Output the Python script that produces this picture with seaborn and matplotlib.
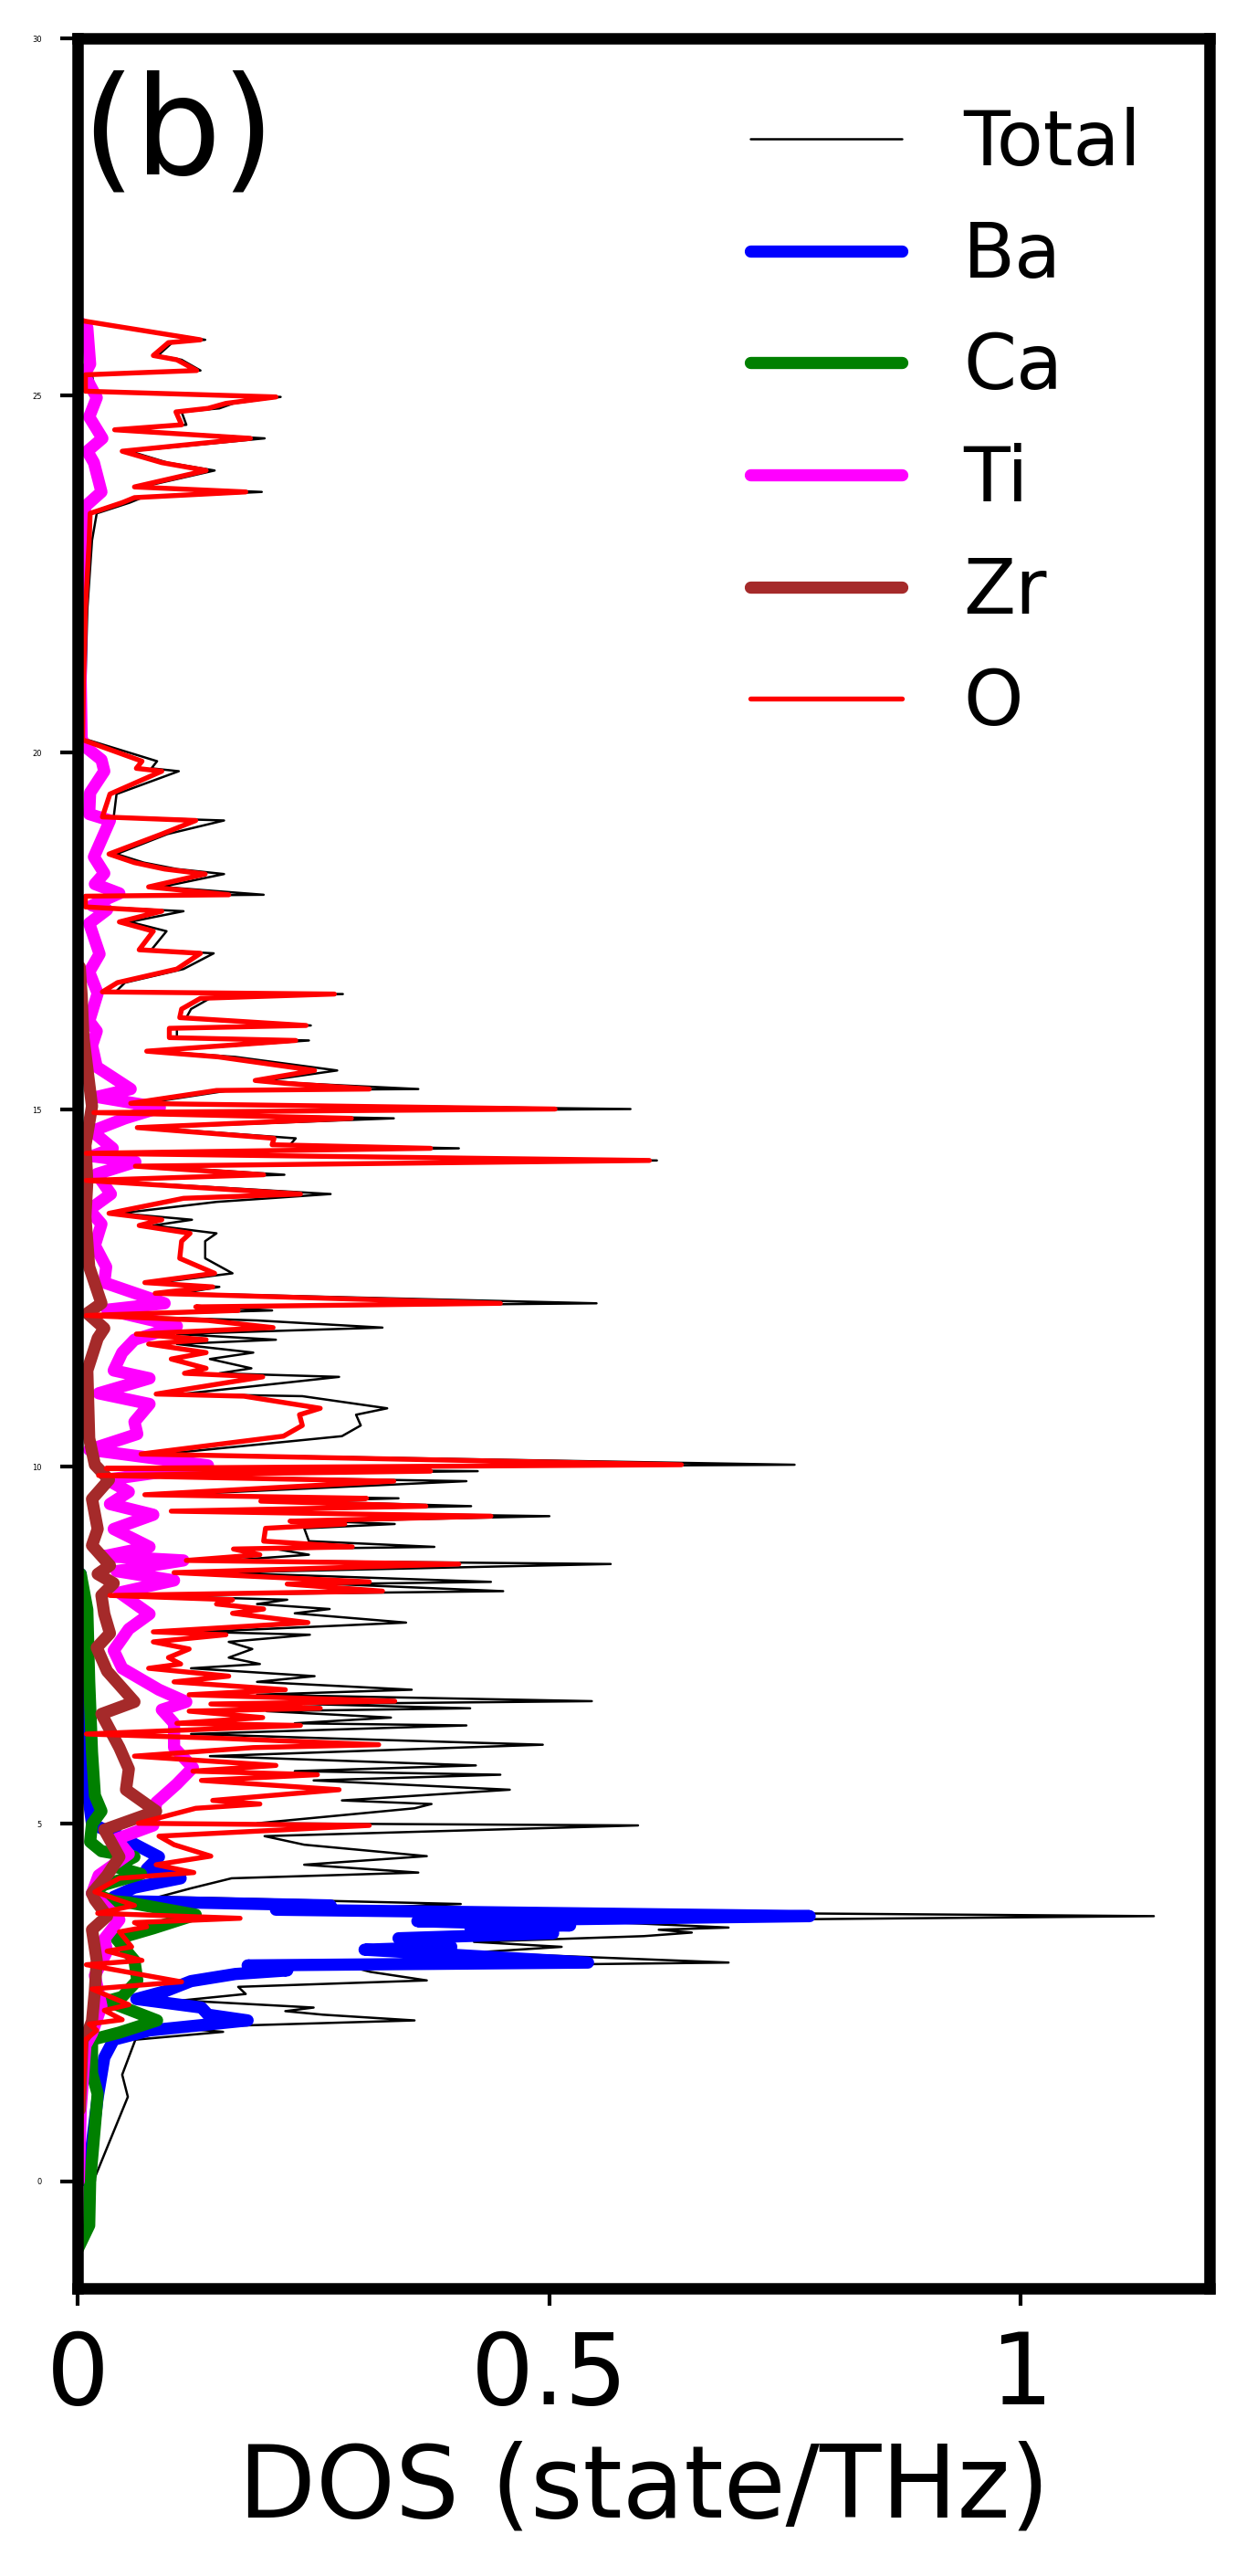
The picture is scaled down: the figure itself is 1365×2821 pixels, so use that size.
import matplotlib
matplotlib.use("Agg")
import matplotlib.pyplot as plt
import pandas as pd
import seaborn as sns

# ---------------- data (frequency in THz, DOS in state/THz) ----------------
total_freq = [26.05, 25.78, 25.74, 25.56, 25.50, 25.35, 25.29, 25.06, 24.98, 24.89, 24.82, 24.77,
              24.59, 24.52, 24.40, 24.22, 24.06, 23.95, 23.72, 23.65, 23.57, 23.50, 23.35, 22.97,
              22.00, 21.00, 20.20, 20.18, 19.88, 19.78, 19.74, 19.42, 19.10, 19.05, 18.86, 18.58,
              18.46, 18.37, 18.30, 18.12, 18.01, 17.99, 17.84, 17.78, 17.63, 17.50, 17.24, 17.19,
              16.97, 16.78, 16.65, 16.62, 16.56, 16.41, 16.29, 16.18, 16.14, 16.01, 15.97, 15.82,
              15.74, 15.55, 15.41, 15.37, 15.29, 15.27, 15.09, 15.01, 14.96, 14.88, 14.75, 14.60,
              14.51, 14.46, 14.39, 14.29, 14.21, 14.09, 14.01, 13.82, 13.71, 13.55, 13.46, 13.38,
              13.27, 13.16, 12.92, 12.71, 12.58, 12.52, 12.43, 12.29, 12.24, 12.19, 12.12, 12.05,
              11.95, 11.86, 11.78, 11.72, 11.60, 11.51, 11.38, 11.31, 11.26, 11.02, 10.99, 10.82,
              10.73, 10.58, 10.43, 10.18, 10.03, 9.98, 9.94, 9.88, 9.80, 9.61, 9.56, 9.52,
              9.45, 9.38, 9.31, 9.24, 9.20, 9.14, 8.96, 8.88, 8.85, 8.77, 8.69, 8.64,
              8.52, 8.39, 8.36, 8.26, 8.20, 8.14, 8.08, 8.01, 7.95, 7.82, 7.69, 7.65,
              7.55, 7.45, 7.33, 7.24, 7.18, 7.07, 6.99, 6.88, 6.81, 6.72, 6.68, 6.62,
              6.58, 6.49, 6.41, 6.38, 6.26, 6.20, 6.11, 6.07, 5.95, 5.82, 5.74, 5.69,
              5.61, 5.48, 5.33, 5.28, 5.22, 5.01, 4.98, 4.83, 4.71, 4.55, 4.43, 4.32,
              4.24, 4.10, 3.98, 3.88, 3.80, 3.71, 3.64, 3.55, 3.52, 3.48, 3.43, 3.35,
              3.28, 3.20, 3.06, 3.00, 2.93, 2.81, 2.72, 2.62, 2.53, 2.43, 2.38, 2.33,
              2.25, 2.15, 2.09, 1.98, 1.49, 1.18, 0.05, 0.00]
total_dos = [0.005, 0.135, 0.100, 0.085, 0.110, 0.130, 0.015, 0.018, 0.215, 0.165, 0.150, 0.110,
             0.115, 0.045, 0.198, 0.055, 0.095, 0.145, 0.068, 0.195, 0.068, 0.055, 0.020, 0.015,
             0.010, 0.008, 0.008, 0.010, 0.084, 0.078, 0.107, 0.041, 0.038, 0.155, 0.095, 0.041,
             0.070, 0.105, 0.155, 0.089, 0.197, 0.020, 0.020, 0.112, 0.055, 0.094, 0.078, 0.144,
             0.112, 0.050, 0.040, 0.281, 0.140, 0.120, 0.115, 0.247, 0.105, 0.105, 0.245, 0.080,
             0.167, 0.275, 0.200, 0.235, 0.361, 0.160, 0.070, 0.586, 0.030, 0.335, 0.075, 0.231,
             0.225, 0.404, 0.020, 0.614, 0.075, 0.219, 0.020, 0.268, 0.147, 0.045, 0.121, 0.080,
             0.147, 0.135, 0.135, 0.164, 0.085, 0.150, 0.110, 0.550, 0.140, 0.206, 0.020, 0.190,
             0.323, 0.105, 0.210, 0.105, 0.186, 0.140, 0.184, 0.150, 0.277, 0.110, 0.238, 0.328,
             0.295, 0.300, 0.280, 0.090, 0.760, 0.050, 0.424, 0.040, 0.412, 0.100, 0.340, 0.230,
             0.417, 0.130, 0.500, 0.260, 0.336, 0.240, 0.245, 0.378, 0.210, 0.245, 0.160, 0.565,
             0.150, 0.438, 0.270, 0.451, 0.060, 0.222, 0.190, 0.267, 0.230, 0.348, 0.130, 0.246,
             0.160, 0.185, 0.160, 0.193, 0.120, 0.251, 0.190, 0.354, 0.190, 0.545, 0.240, 0.416,
             0.200, 0.332, 0.230, 0.412, 0.120, 0.264, 0.493, 0.404, 0.140, 0.422, 0.230, 0.448,
             0.250, 0.458, 0.280, 0.375, 0.357, 0.190, 0.594, 0.198, 0.240, 0.370, 0.240, 0.361,
             0.163, 0.120, 0.086, 0.406, 0.260, 1.141, 0.540, 0.690, 0.616, 0.651, 0.600, 0.420,
             0.513, 0.419, 0.690, 0.290, 0.310, 0.370, 0.170, 0.178, 0.110, 0.250, 0.220, 0.260,
             0.357, 0.100, 0.154, 0.061, 0.047, 0.053, 0.018, 0.018]

ba_freq = [8.50, 7.00, 6.10, 5.50, 5.00, 4.83, 4.54, 4.37, 4.24, 4.11, 3.98, 3.92,
           3.86, 3.80, 3.71, 3.64, 3.58, 3.56, 3.47, 3.40, 3.33, 3.28, 3.24, 3.06,
           3.02, 2.95, 2.90, 2.80, 2.66, 2.55, 2.43, 2.33, 2.25, 2.11, 1.98, 1.73,
           1.17, 0.54, 0.00]
ba_dos = [0.003, 0.004, 0.008, 0.010, 0.015, 0.044, 0.086, 0.073, 0.109, 0.060, 0.038, 0.050,
          0.268, 0.210, 0.776, 0.360, 0.522, 0.416, 0.504, 0.340, 0.360, 0.396, 0.304, 0.541,
          0.180, 0.222, 0.167, 0.120, 0.093, 0.062, 0.131, 0.138, 0.180, 0.076, 0.038, 0.028,
          0.021, 0.015, 0.010]

ca_freq = [8.50, 8.00, 7.00, 6.00, 5.40, 5.18, 5.00, 4.75, 4.62, 4.54, 4.40, 4.30,
           4.15, 4.03, 3.92, 3.90, 3.73, 3.54, 3.39, 3.09, 2.81, 2.58, 2.52, 2.25,
           2.08, 1.98, 1.51, 1.22, 0.00, -0.62, -0.95]
ca_dos = [0.003, 0.010, 0.012, 0.015, 0.018, 0.025, 0.015, 0.013, 0.025, 0.060, 0.040, 0.067,
          0.028, 0.015, 0.038, 0.054, 0.125, 0.080, 0.041, 0.060, 0.063, 0.047, 0.031, 0.084,
          0.044, 0.015, 0.015, 0.021, 0.013, 0.012, 0.000]

ti_freq = [26.00, 25.95, 25.44, 25.29, 24.97, 24.70, 24.40, 24.22, 24.06, 23.65, 23.45, 23.00,
           21.00, 20.20, 20.08, 19.90, 19.74, 19.44, 19.14, 19.05, 18.54, 18.31, 18.16, 18.03,
           17.86, 17.80, 17.61, 17.18, 16.93, 16.63, 16.24, 16.10, 15.90, 15.60, 15.29, 15.18,
           15.03, 14.88, 14.70, 14.46, 14.35, 14.27, 14.10, 13.82, 13.60, 13.40, 13.10, 12.80,
           12.58, 12.29, 12.20, 11.97, 11.78, 11.60, 11.35, 11.24, 11.03, 10.88, 10.63, 10.46,
           10.24, 10.02, 9.82, 9.65, 9.48, 9.33, 9.13, 8.88, 8.75, 8.69, 8.54, 8.41,
           8.24, 7.94, 7.73, 7.43, 7.18, 6.88, 6.71, 6.60, 6.41, 6.07, 5.79, 5.56,
           5.30, 4.98, 4.79, 4.58, 4.28, 4.03, 3.66, 3.39, 3.22, 2.88, 2.45, 2.07,
           1.90, 1.00, 0.00]
ti_dos = [0.005, 0.010, 0.013, 0.007, 0.020, 0.012, 0.026, 0.010, 0.017, 0.025, 0.008, 0.004,
          0.003, 0.004, 0.008, 0.025, 0.028, 0.013, 0.012, 0.034, 0.017, 0.028, 0.018, 0.044,
          0.015, 0.031, 0.012, 0.023, 0.012, 0.021, 0.012, 0.020, 0.015, 0.020, 0.056, 0.020,
          0.087, 0.050, 0.015, 0.037, 0.015, 0.061, 0.020, 0.035, 0.012, 0.025, 0.018, 0.030,
          0.028, 0.092, 0.031, 0.105, 0.060, 0.047, 0.038, 0.076, 0.022, 0.076, 0.060, 0.063,
          0.012, 0.138, 0.031, 0.054, 0.034, 0.080, 0.038, 0.076, 0.028, 0.112, 0.041, 0.102,
          0.044, 0.076, 0.054, 0.038, 0.047, 0.086, 0.115, 0.089, 0.102, 0.102, 0.122, 0.105,
          0.083, 0.080, 0.041, 0.054, 0.022, 0.015, 0.044, 0.028, 0.031, 0.018, 0.025, 0.015,
          0.008, 0.003, 0.001]

zr_freq = [17.00, 16.60, 16.00, 15.05, 14.50, 14.00, 13.50, 12.80, 12.29, 12.15, 11.94, 11.80,
           11.35, 10.40, 10.03, 9.82, 9.55, 9.13, 8.90, 8.62, 8.50, 8.37, 8.20, 7.94,
           7.67, 7.47, 7.14, 6.71, 6.54, 6.07, 5.77, 5.48, 5.18, 4.92, 4.54, 4.28,
           4.03, 3.94, 3.71, 3.52, 3.09, 2.66, 2.24, 2.07, 1.98, 1.00]
zr_dos = [0.002, 0.004, 0.006, 0.015, 0.008, 0.010, 0.008, 0.012, 0.025, 0.010, 0.028, 0.021,
          0.010, 0.012, 0.018, 0.033, 0.015, 0.021, 0.015, 0.034, 0.021, 0.038, 0.025, 0.028,
          0.034, 0.020, 0.031, 0.060, 0.025, 0.044, 0.054, 0.051, 0.083, 0.028, 0.044, 0.031,
          0.015, 0.018, 0.031, 0.015, 0.020, 0.018, 0.015, 0.010, 0.005, 0.002]

o_freq = [26.05, 25.78, 25.74, 25.56, 25.50, 25.35, 25.29, 25.06, 24.98, 24.89, 24.82, 24.77,
          24.59, 24.52, 24.40, 24.22, 24.06, 23.95, 23.72, 23.65, 23.57, 23.50, 23.35, 22.97,
          22.00, 21.00, 20.20, 20.18, 19.88, 19.78, 19.74, 19.42, 19.10, 19.05, 18.86, 18.58,
          18.46, 18.37, 18.30, 18.12, 18.01, 17.99, 17.84, 17.78, 17.63, 17.50, 17.24, 17.19,
          16.97, 16.78, 16.65, 16.62, 16.56, 16.41, 16.29, 16.18, 16.14, 16.01, 15.97, 15.82,
          15.74, 15.55, 15.41, 15.37, 15.29, 15.27, 15.09, 15.01, 14.96, 14.88, 14.75, 14.60,
          14.51, 14.46, 14.39, 14.29, 14.21, 14.09, 14.01, 13.82, 13.76, 13.55, 13.46, 13.38,
          13.27, 13.16, 12.92, 12.71, 12.58, 12.52, 12.43, 12.29, 12.24, 12.19, 12.12, 12.05,
          11.95, 11.86, 11.78, 11.72, 11.60, 11.51, 11.38, 11.31, 11.26, 11.02, 10.99, 10.82,
          10.73, 10.58, 10.43, 10.18, 10.03, 9.98, 9.94, 9.88, 9.80, 9.61, 9.56, 9.52,
          9.45, 9.38, 9.31, 9.24, 9.20, 9.14, 8.96, 8.88, 8.85, 8.77, 8.69, 8.64,
          8.52, 8.39, 8.36, 8.26, 8.20, 8.14, 8.08, 8.01, 7.95, 7.82, 7.69, 7.65,
          7.55, 7.45, 7.33, 7.24, 7.18, 7.07, 6.99, 6.88, 6.81, 6.72, 6.68, 6.62,
          6.58, 6.49, 6.41, 6.38, 6.26, 6.20, 6.11, 6.07, 5.95, 5.82, 5.74, 5.69,
          5.61, 5.48, 5.33, 5.28, 5.22, 5.01, 4.98, 4.83, 4.71, 4.55, 4.43, 4.32,
          4.24, 4.05, 3.86, 3.75, 3.68, 3.62, 3.56, 3.49, 3.28, 3.22, 3.09, 3.03,
          2.79, 2.69, 2.47, 2.39, 2.26, 2.20, 2.11, 1.98, 1.00, 0.00]
o_dos = [0.003, 0.130, 0.096, 0.080, 0.105, 0.126, 0.008, 0.008, 0.210, 0.157, 0.138, 0.104,
         0.110, 0.039, 0.183, 0.047, 0.089, 0.136, 0.060, 0.178, 0.060, 0.047, 0.013, 0.012,
         0.008, 0.006, 0.005, 0.005, 0.068, 0.062, 0.089, 0.034, 0.026, 0.125, 0.089, 0.033,
         0.060, 0.092, 0.135, 0.075, 0.160, 0.008, 0.008, 0.089, 0.044, 0.080, 0.065, 0.130,
         0.105, 0.042, 0.026, 0.272, 0.130, 0.110, 0.108, 0.242, 0.097, 0.097, 0.231, 0.073,
         0.149, 0.251, 0.188, 0.220, 0.309, 0.147, 0.056, 0.506, 0.017, 0.290, 0.063, 0.208,
         0.206, 0.374, 0.009, 0.606, 0.061, 0.197, 0.009, 0.236, 0.112, 0.033, 0.089, 0.065,
         0.119, 0.110, 0.108, 0.145, 0.071, 0.143, 0.082, 0.448, 0.125, 0.170, 0.009, 0.138,
         0.207, 0.062, 0.136, 0.075, 0.136, 0.099, 0.136, 0.113, 0.196, 0.083, 0.176, 0.257,
         0.235, 0.238, 0.218, 0.067, 0.640, 0.030, 0.374, 0.022, 0.335, 0.071, 0.306, 0.194,
         0.369, 0.099, 0.438, 0.225, 0.283, 0.199, 0.197, 0.291, 0.165, 0.193, 0.115, 0.404,
         0.102, 0.309, 0.222, 0.323, 0.034, 0.164, 0.147, 0.197, 0.164, 0.244, 0.080, 0.157,
         0.080, 0.118, 0.096, 0.109, 0.075, 0.160, 0.102, 0.220, 0.118, 0.336, 0.141, 0.257,
         0.118, 0.196, 0.105, 0.236, 0.009, 0.151, 0.319, 0.186, 0.060, 0.210, 0.122, 0.254,
         0.131, 0.277, 0.143, 0.193, 0.125, 0.064, 0.309, 0.086, 0.102, 0.141, 0.083, 0.123,
         0.044, 0.018, 0.060, 0.021, 0.172, 0.060, 0.073, 0.044, 0.057, 0.031, 0.068, 0.009,
         0.110, 0.015, 0.054, 0.028, 0.047, 0.012, 0.020, 0.008, 0.004, 0.002]

labels = ["Total", "Ba", "Ca", "Ti", "Zr", "O"]
colors = ["black", "blue", "green", "magenta", "brown", "red"]
widths = [0.6, 3.2, 3.2, 3.2, 3.2, 1.3]
x_ticks = [0, 0.5, 1]
x_tick_labels = ["0", "0.5", "1"]
y_ticks = [0, 5, 10, 15, 20, 25, 30]

# ---------------- plotting ----------------
sns.set_theme(style="ticks")
plt.rcParams['font.family'] = ['DejaVu Sans']
plt.rcParams['text.color'] = 'black'
plt.rcParams['axes.labelcolor'] = 'black'
plt.rcParams['xtick.color'] = 'black'
plt.rcParams['ytick.color'] = 'black'

fig = plt.figure(figsize=(4.55, 2821 / 300), dpi=300)
ax = fig.add_axes([0.0625, 0.1117, 0.9082, 0.8734])

series = [(total_freq, total_dos), (ba_freq, ba_dos), (ca_freq, ca_dos),
          (ti_freq, ti_dos), (zr_freq, zr_dos), (o_freq, o_dos)]
for (fr, ds), lab, col, lw in zip(series, labels, colors, widths):
    df = pd.DataFrame({"dos": ds, "freq": fr})
    sns.lineplot(data=df, x="dos", y="freq", sort=False, estimator=None,
                 color=col, linewidth=lw, label=lab, ax=ax)

ax.set_xlim(0, 1.2)
ax.set_ylim(-1.5, 30)
ax.set_xticks(x_ticks)
ax.set_xticklabels(x_tick_labels)
ax.set_yticks(y_ticks)
ax.set_yticklabels([str(v) for v in y_ticks])
ax.tick_params(axis='x', labelsize=26, length=4.5, width=1, pad=6, colors='black')
ax.tick_params(axis='y', labelsize=2, length=4.5, width=1, pad=5, colors='black')
for s in ax.spines.values():
    s.set_linewidth(3)
    s.set_color('black')
ax.set_xlabel("DOS (state/THz)", fontsize=26.5, color='black')
ax.set_ylabel("")

ax.text(0.003, 0.986, "(b)", transform=ax.transAxes, fontsize=36, va='top', ha='left',
        color='black')

leg = ax.legend(loc="upper right", frameon=False, fontsize=20, handlelength=2.0,
                labelspacing=0.5, handletextpad=0.8)
for t in leg.get_texts():
    t.set_color('black')

fig.savefig("out.png", dpi=300, facecolor='white')
